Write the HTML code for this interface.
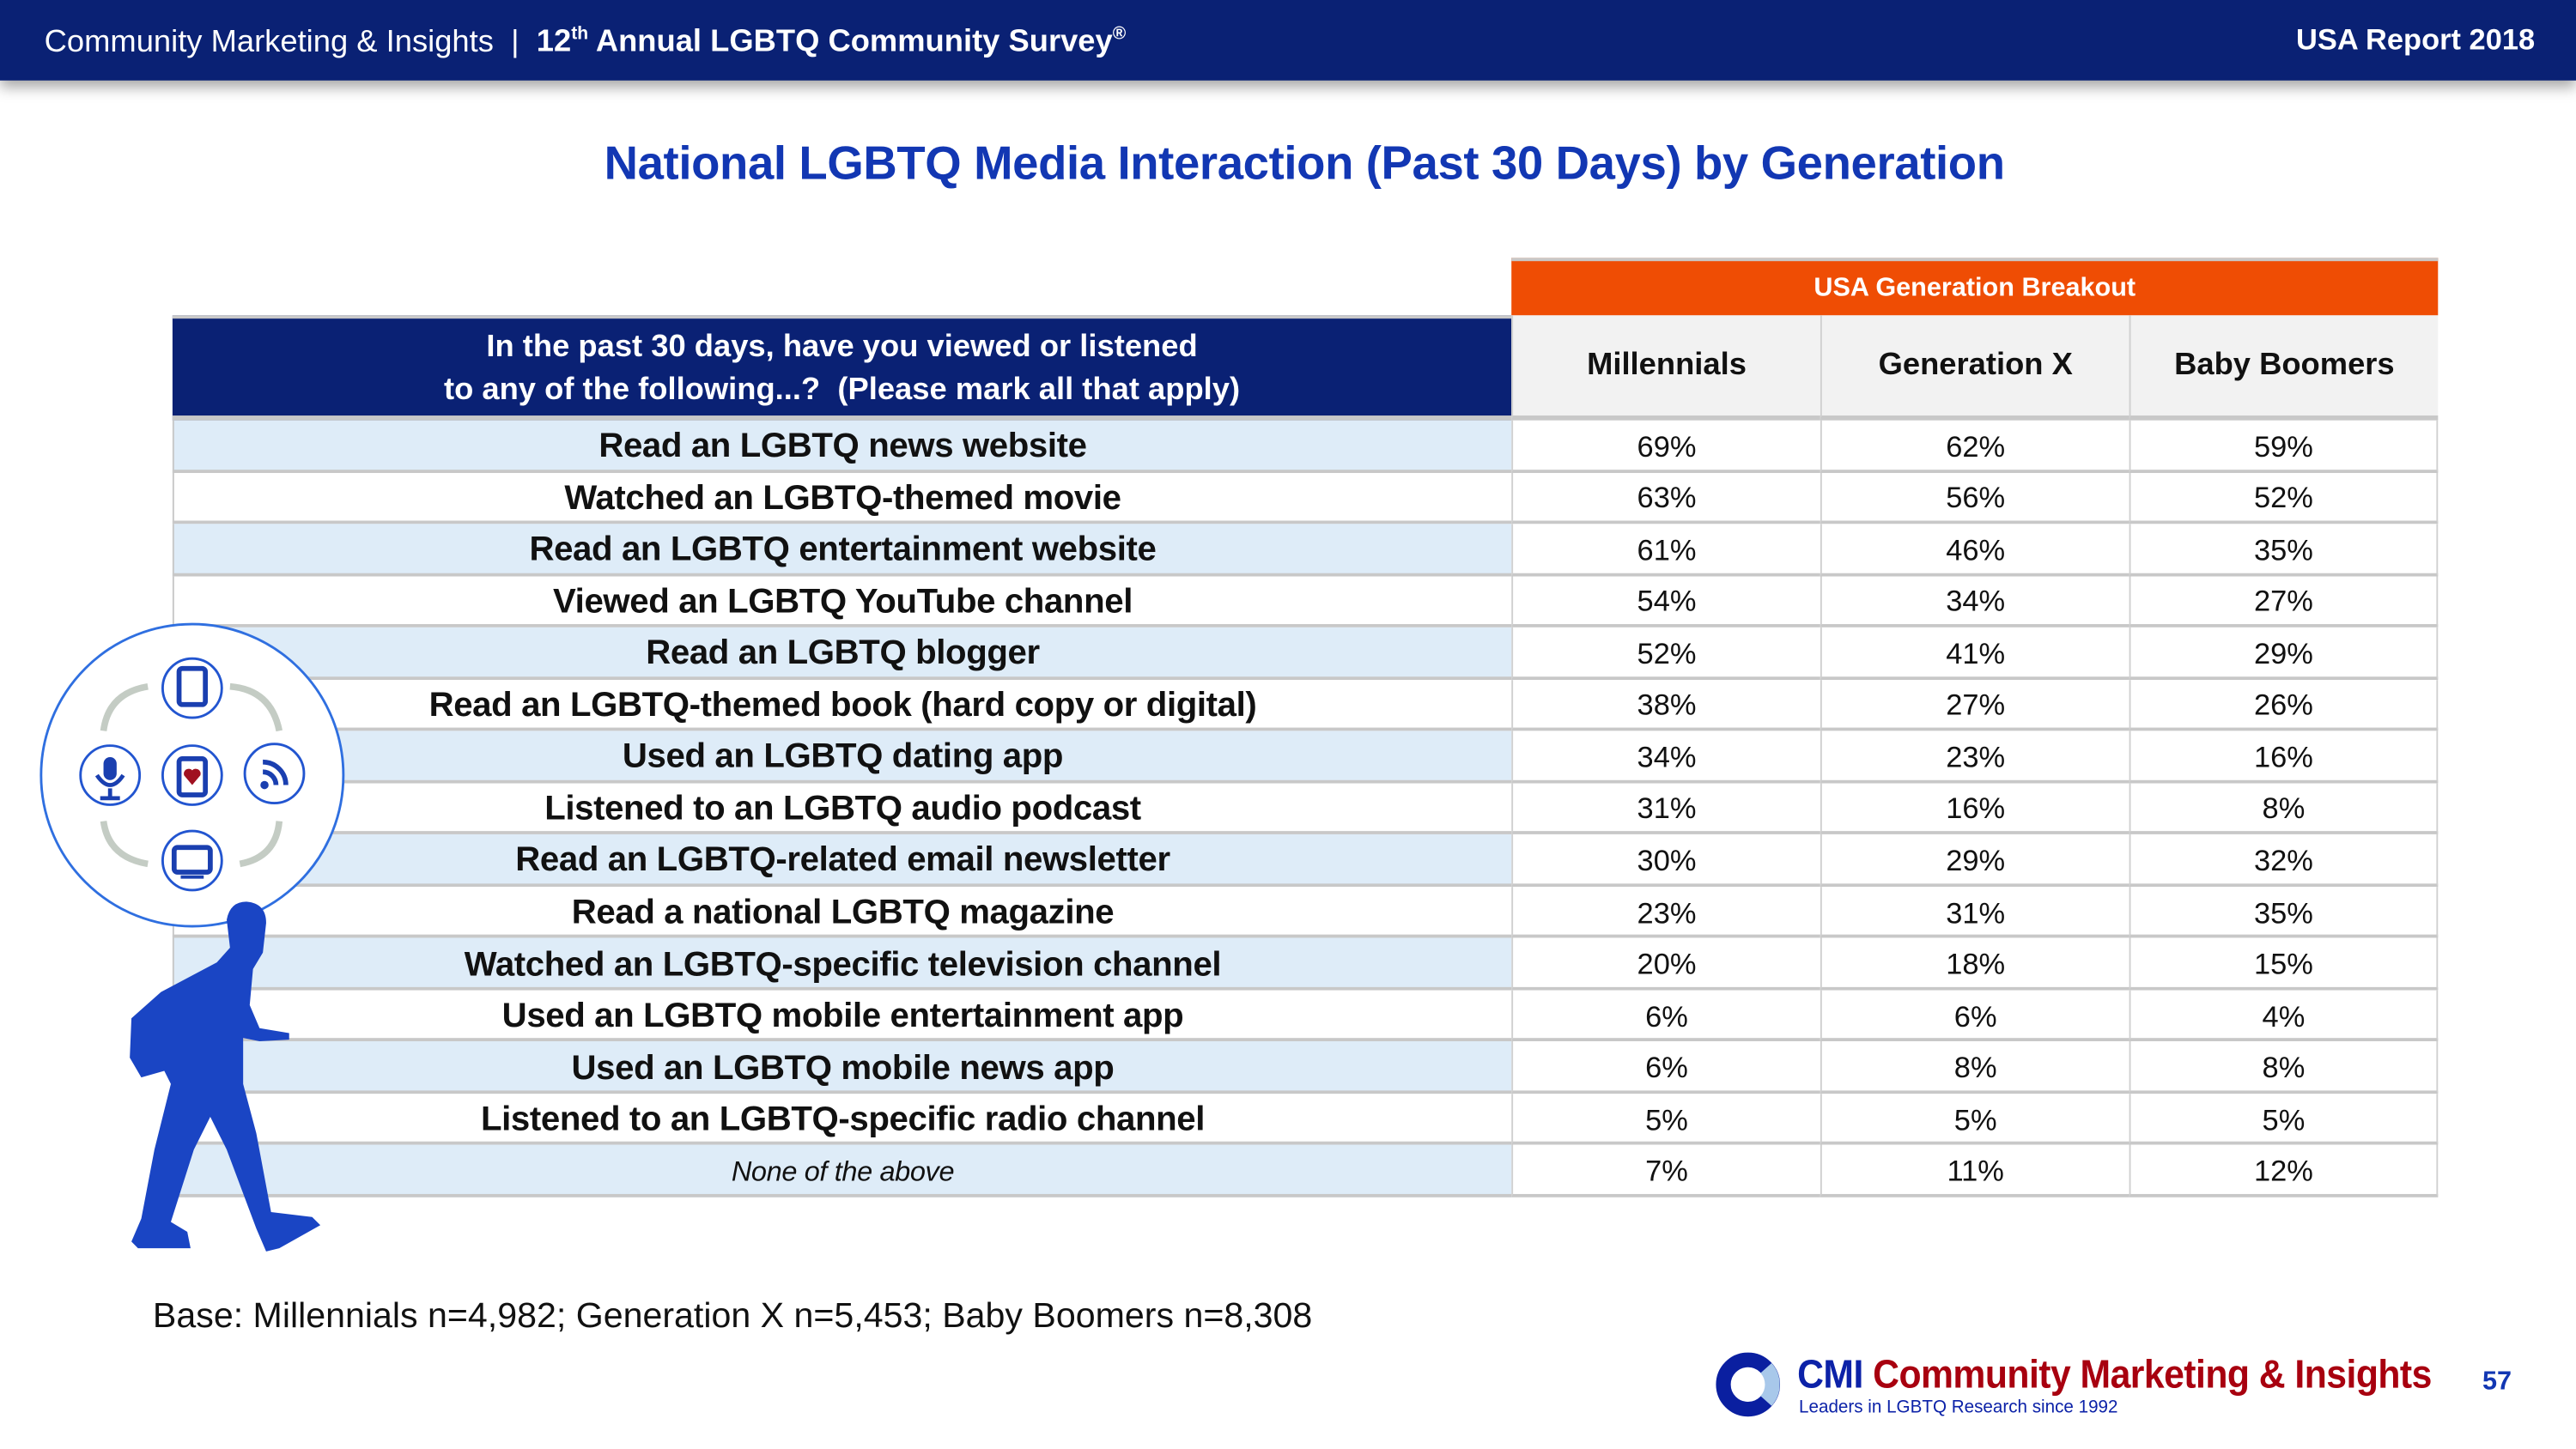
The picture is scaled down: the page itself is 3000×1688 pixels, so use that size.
<!DOCTYPE html>
<html><head><meta charset="utf-8"><style>
html,body{margin:0;padding:0;background:#fff;}
body{width:3000px;height:1688px;overflow:hidden;}
#stage{position:absolute;left:0;top:0;width:1568px;height:882px;transform:scale(1.91327);transform-origin:0 0;font-family:"Liberation Sans",sans-serif;}
.abs{position:absolute;}
#hdr{left:0;top:0;width:1568px;height:49px;background:#0a2174;box-shadow:0 4px 8px rgba(0,0,0,0.35);}
.cell{position:absolute;box-sizing:border-box;display:flex;align-items:center;justify-content:center;white-space:nowrap;}
</style></head><body>
<div id="stage">
<div id="hdr" class="abs">
  <div class="abs" style="left:27px;top:15px;color:#fff;font-size:19px;letter-spacing:0px;white-space:nowrap;">Community Marketing &amp; Insights &nbsp;| &nbsp;<b>12<sup style="font-size:11px">th</sup> Annual LGBTQ Community Survey<sup style="font-size:11px">®</sup></b></div>
  <div class="abs" style="right:25px;top:14px;color:#fff;font-size:18px;font-weight:bold;">USA Report 2018</div>
</div>
<div class="abs" style="left:0;width:1588px;top:84px;text-align:center;color:#1237b3;font-size:28.5px;font-weight:bold;letter-spacing:-0.2px;">National LGBTQ Media Interaction (Past 30 Days) by Generation</div>

<div id="tbl" class="abs" style="left:0;top:0;"></div>

<svg class="abs" style="left:0;top:0" width="260" height="882">
  <circle cx="117" cy="472" r="92" fill="#fff" stroke="#2f6fe0" stroke-width="1.5"/>
  <g fill="none" stroke="#c4ccc4" stroke-width="4">
    <path d="M63 445 Q66 422 90 418"/><path d="M140 418 Q165 420 170 445"/>
    <path d="M170 500 Q168 522 146 526"/><path d="M90 526 Q66 522 63 500"/>
  </g>
  <g stroke="#2255d0" stroke-width="1.5" fill="#fff">
    <circle cx="117" cy="419" r="18"/><circle cx="67" cy="472" r="18"/><circle cx="117" cy="472" r="18"/><circle cx="167" cy="471" r="18"/><circle cx="117" cy="524" r="18"/>
  </g>
  <rect x="109" y="407" width="16" height="22" rx="2" fill="none" stroke="#1a3fb0" stroke-width="3"/>
  <rect x="109" y="462" width="16" height="22" rx="2" fill="none" stroke="#1a3fb0" stroke-width="3"/>
  <path d="M117 478 l-5 -6 a3 3 0 0 1 5 -3 a3 3 0 0 1 5 3z" fill="#a01020"/>
  <rect x="63" y="461" width="8" height="14" rx="4" fill="#1a3fb0"/><path d="M59 472 q8 12 16 0 M67 480 v5 M61 486 h12" stroke="#1a3fb0" stroke-width="2.5" fill="none"/>
  <circle cx="161" cy="478" r="2.5" fill="#1a3fb0"/><path d="M160 470 a8 8 0 0 1 8 8 M160 464 a14 14 0 0 1 14 14" stroke="#1a3fb0" stroke-width="3" fill="none"/>
  <rect x="106" y="516" width="22" height="15" rx="2" fill="none" stroke="#1a3fb0" stroke-width="3"/><path d="M110 534 h14" stroke="#1a3fb0" stroke-width="2"/>
  <path fill="#1a45c4" d="M150 549 Q162 550 162 562 L160 580 L154 590 L152 612 L158 626 L176 629 L176 633 L158 634 L148 632 L148 660 L156 690 L165 738 L190 741 L195 746 L170 760 L162 762 L156 748 L138 700 L128 680 L118 700 L104 744 L114 750 L116 760 L84 760 L80 756 L86 742 L94 700 L104 660 L100 652 L86 656 L79 644 L80 620 L98 604 L132 586 L140 577 L138 560 Q140 549 150 549Z"/>
</svg>

<div class="abs" style="left:93px;top:789px;font-size:21.5px;color:#111;white-space:nowrap;">Base: Millennials n=4,982; Generation X n=5,453; Baby Boomers n=8,308</div>

<div class="abs" style="left:1044px;top:823px;width:40px;height:40px;">
  <svg width="40" height="40"><circle cx="20" cy="20" r="15" fill="none" stroke="#0a1fa0" stroke-width="9"/><path d="M31 10 A15 15 0 0 1 31 30" fill="none" stroke="#a8c8ea" stroke-width="9"/></svg>
</div>
<div class="abs" style="left:1094px;top:824px;font-size:24px;font-weight:bold;white-space:nowrap;letter-spacing:-0.3px;transform:scaleX(0.93);transform-origin:0 0;"><span style="color:#0c22a8">CMI </span><span style="color:#a8000f">Community Marketing &amp; Insights</span></div>
<div class="abs" style="left:1095px;top:851px;font-size:11px;color:#0c22a8;white-space:nowrap;transform:scaleX(0.98);transform-origin:0 0;">Leaders in LGBTQ Research since 1992</div>
<div class="abs" style="left:1511px;top:833px;font-size:16px;font-weight:bold;color:#1237b3;">57</div>
</div>

<script>
const categories = ["Read an LGBTQ news website","Watched an LGBTQ-themed movie","Read an LGBTQ entertainment website","Viewed an LGBTQ YouTube channel","Read an LGBTQ blogger","Read an LGBTQ-themed book (hard copy or digital)","Used an LGBTQ dating app","Listened to an LGBTQ audio podcast","Read an LGBTQ-related email newsletter","Read a national LGBTQ magazine","Watched an LGBTQ-specific television channel","Used an LGBTQ mobile entertainment app","Used an LGBTQ mobile news app","Listened to an LGBTQ-specific radio channel","None of the above"];
const seriesNames = ["Millennials","Generation X","Baby Boomers"];
const millennials = [69,63,61,54,52,38,34,31,30,23,20,6,6,5,7];
const genX = [62,56,46,34,41,27,23,16,29,31,18,6,8,5,11];
const boomers = [59,52,35,27,29,26,16,8,32,35,15,4,8,5,12];

const tbl = document.getElementById('tbl');
const L = 105, LW = 815, CW = 188, TOP = 256, RH = 31.53;
function mk(x,y,w,h,css,txt){
  const d=document.createElement('div');d.className='cell';
  d.style.cssText+=`left:${x}px;top:${y}px;width:${w}px;height:${h}px;`+css;
  if(txt!==undefined)d.textContent=txt;tbl.appendChild(d);return d;
}
let e;
e=mk(920,157,564,35,'background:#ef4d04;color:#fff;font-weight:bold;font-size:16px;border-top:2px solid #c8c8c8;','USA Generation Breakout');


e=mk(L,192,LW,64,'background:#0a2174;color:#fff;font-weight:bold;font-size:19px;text-align:center;line-height:26px;padding-top:2px;border-top:2px solid #c8c8c8;border-bottom:3px solid #c8c8c8;');
e.innerHTML='In the past 30 days, have you viewed or listened<br>to any of the following...? &nbsp;(Please mark all that apply)';


seriesNames.forEach((s,i)=>{
  const c=mk(920+i*CW,192,CW,64,'background:#f2f2f2;color:#111;font-weight:bold;font-size:19px;border-left:1px solid #d0d0d0;border-bottom:3px solid #c8c8c8;',s);
  
  
});
const series=[millennials,genX,boomers];
categories.forEach((cat,r)=>{
  const y=TOP+r*RH, last=r===categories.length-1;
  const lab=mk(L,y,LW,RH,`background:${r%2===0?'#deecf8':'#fff'};color:#111;font-weight:${last?'normal':'bold'};font-style:${last?'italic':'normal'};font-size:${last?17:21}px;letter-spacing:-0.2px;padding-top:3px;border-bottom:2px solid #c8c8c8;border-left:1px solid #c8c8c8;`,cat);
  
  
  series.forEach((arr,i)=>{
    const v=mk(920+i*CW,y,CW,RH,`background:#fff;color:#111;font-size:18px;padding-top:3px;border-bottom:2px solid #c8c8c8;border-left:1px solid #d0d0d0;${i===2?'border-right:1px solid #d0d0d0;':''}`,arr[r]+'%');
    
    
  });
});
</script>
</body></html>
